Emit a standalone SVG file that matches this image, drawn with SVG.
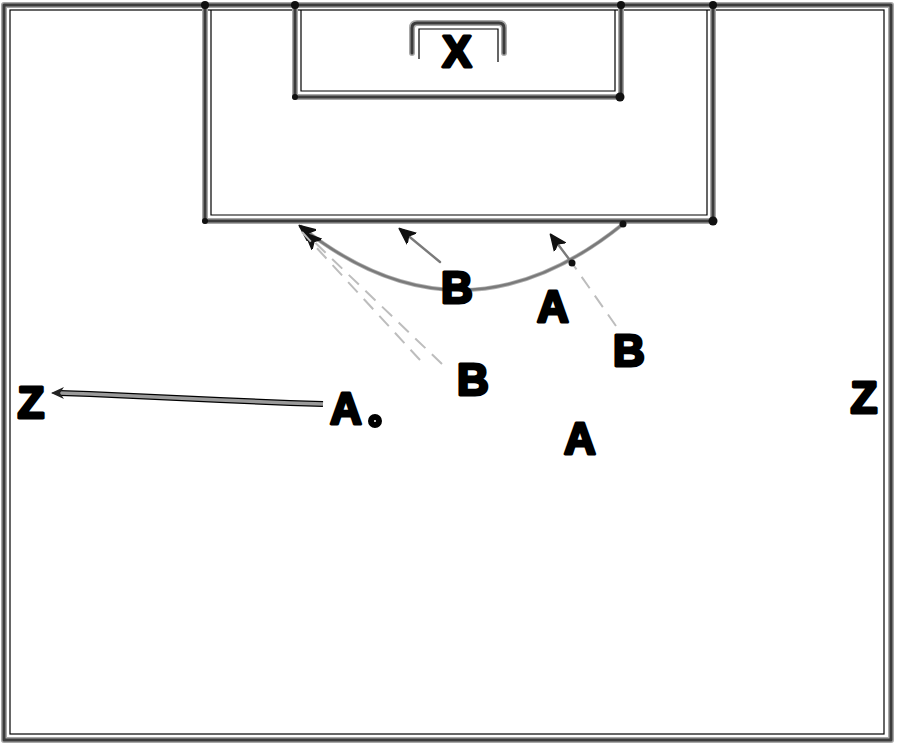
<svg xmlns="http://www.w3.org/2000/svg" width="900" height="747" viewBox="0 0 900 747">
<defs>
<style>
.gw{fill:none;stroke:#a8a8a8;stroke-width:6;stroke-linecap:round;stroke-linejoin:round}
.gk{fill:none;stroke:#3c3c3c;stroke-width:3;stroke-linecap:round;stroke-linejoin:round}
.bl{fill:none;stroke:#000;stroke-width:1.2}
.dot{fill:#111}
.lbl{font-family:"Liberation Sans",Arial,sans-serif;font-weight:bold;font-size:44px;fill:#000;stroke:#000;stroke-width:3;stroke-linejoin:round;text-anchor:middle}
.run{fill:none;stroke:#7a7a7a;stroke-width:2.4;stroke-linecap:round}
.pass{fill:none;stroke:#bdbdbd;stroke-width:2;stroke-dasharray:14 9}
</style>
<marker id="ah" markerWidth="18" markerHeight="16" refX="15" refY="8" orient="auto" markerUnits="userSpaceOnUse">
<path d="M0,1 L16,8 L0,15 L4,8 Z" fill="#111" stroke="#111" stroke-width="1.5" stroke-linejoin="round"/>
</marker>
<marker id="ahs" markerWidth="14" markerHeight="12" refX="12" refY="6" orient="auto" markerUnits="userSpaceOnUse">
<path d="M0,0 L13,6 L0,12 L4,6 Z" fill="#222"/>
</marker>
</defs>
<rect width="900" height="747" fill="#fff"/>

<g id="field">
<path class="gw" d="M4,5 H891 V740 H4 Z"/>
<path class="gk" d="M4,5 H891 V740 H4 Z"/>
<rect class="bl" x="10" y="10" width="874" height="724"/>
<path class="gw" d="M205,5 V221 H713 V5"/>
<path class="gk" d="M205,5 V221 H713 V5"/>
<path class="bl" d="M211,10 V215 H707 V10"/>
<path class="gw" d="M295,5 V97 H621 V5"/>
<path class="gk" d="M295,5 V97 H621 V5"/>
<path class="bl" d="M301,10 V91 H615 V10"/>
<circle class="dot" cx="205" cy="5" r="4"/>
<circle class="dot" cx="295" cy="5" r="4"/>
<circle class="dot" cx="621" cy="5" r="4"/>
<circle class="dot" cx="713" cy="5" r="4"/>
<circle class="dot" cx="205" cy="221" r="3"/>
<circle class="dot" cx="713" cy="221" r="4.5"/>
<circle class="dot" cx="295" cy="97" r="3"/>
<circle class="dot" cx="620" cy="97" r="4.5"/>
</g>

<g id="goal">
<path class="gw" d="M412,53 V28 Q412,23 417,23 H499 Q504,23 504,28 V53"/>
<path class="gk" d="M412,53 V28 Q412,23 417,23 H499 Q504,23 504,28 V53"/>
<path class="bl" d="M419,59 V29 H498 V62"/>
</g>

<g id="connectors">
<path fill="none" stroke="#b0b0b0" stroke-width="4" d="M623,224 Q461,355 300,226"/>
<path class="run" d="M623,224 Q461,355 300,226" marker-end="url(#ah)"/>
<circle class="dot" cx="623" cy="224" r="3.5"/>
<path class="pass" d="M442,364 L306,234" marker-end="url(#ah)"/>
<path class="pass" d="M420,360 L302,232"/>
<path class="run" d="M440,262 L400,229" marker-end="url(#ah)"/>
<path class="pass" d="M616,326 L572,263"/>
<path class="run" d="M572,263 L551,235" marker-end="url(#ah)"/>
<circle class="dot" cx="572" cy="263" r="3.5"/>
<path fill="none" stroke="#000" stroke-width="6" stroke-linejoin="round" d="M323,404 L290,403 L220,400 L155,397 L90,394 L60,393"/>
<path fill="none" stroke="#9a9a9a" stroke-width="3.5" stroke-linejoin="round" d="M323,404 L290,403 L220,400 L155,397 L90,394 L60,393"/>
<path fill="none" stroke="#555" stroke-width="1" d="M60,393 L52,393" marker-end="url(#ahs)"/>
</g>

<g id="label-X"><text class="lbl" x="457" y="67">X</text></g>
<g id="player-B1"><text class="lbl" x="457" y="303">B</text></g>
<g id="player-A1"><text class="lbl" x="553" y="322">A</text></g>
<g id="player-B2"><text class="lbl" x="629" y="366">B</text></g>
<g id="player-B3"><text class="lbl" x="473" y="395">B</text></g>
<g id="player-A2"><text class="lbl" x="580" y="454">A</text></g>
<g id="player-A0"><text class="lbl" x="346" y="424">A</text><circle cx="375" cy="421" r="4" fill="#fff" stroke="#000" stroke-width="6"/></g>
<g id="zone-Z-left"><text class="lbl" x="31" y="418">Z</text></g>
<g id="zone-Z-right"><text class="lbl" x="864" y="413">Z</text></g>
</svg>
